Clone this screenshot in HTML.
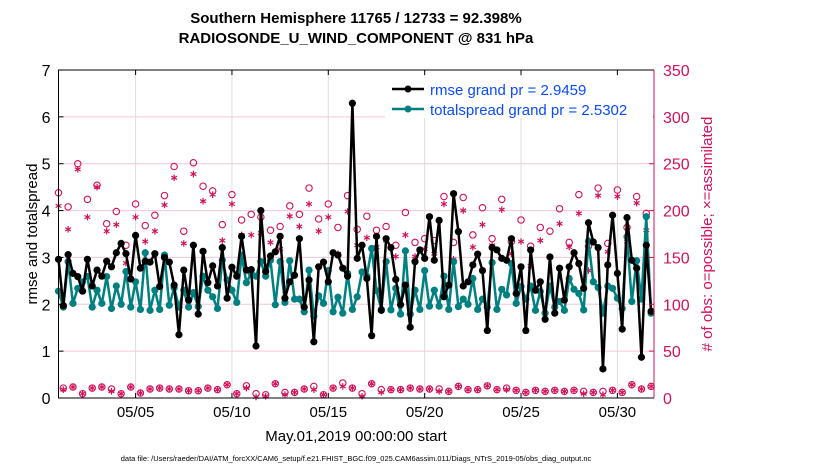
<!DOCTYPE html>
<html><head><meta charset="utf-8"><style>
body{margin:0;background:#fff;width:830px;height:470px;overflow:hidden;font-family:"Liberation Sans",sans-serif}
svg text{font-family:"Liberation Sans",sans-serif}
</style></head><body>
<svg id="chart" width="830" height="470" xmlns="http://www.w3.org/2000/svg">
<text x="356" y="23" text-anchor="middle" font-size="15" font-weight="bold">Southern Hemisphere 11765 / 12733 = 92.398%</text>
<text x="356" y="43" text-anchor="middle" font-size="15" font-weight="bold">RADIOSONDE_U_WIND_COMPONENT @ 831 hPa</text>
<g id="grid"></g>
<g id="obs"></g>
<g id="lines"></g>
<g id="axes"></g>
<text transform="translate(37,234) rotate(-90)" text-anchor="middle" font-size="15">rmse and totalspread</text>
<text transform="translate(712,234) rotate(-90)" text-anchor="middle" font-size="15" fill="#d4105a"># of obs: o=possible; ×=assimilated</text>
<text x="356" y="441" text-anchor="middle" font-size="15">May.01,2019 00:00:00 start</text>
<text x="356" y="461" text-anchor="middle" font-size="7.5">data file: /Users/raeder/DAI/ATM_forcXX/CAM6_setup/f.e21.FHIST_BGC.f09_025.CAM6assim.011/Diags_NTrS_2019-05/obs_diag_output.nc</text>
<g>
<rect x="385" y="76" width="268" height="42" fill="#fff"/>
<g><line x1="392" y1="89" x2="424" y2="89" stroke="#000" stroke-width="2.5"/><circle cx="408" cy="89" r="3.5" fill="#000"/><text x="430" y="95" font-size="15" fill="#0a4cff">rmse grand pr = 2.9459</text></g>
<g><line x1="392" y1="109" x2="424" y2="109" stroke="#008080" stroke-width="2.5"/><circle cx="408" cy="109" r="3.5" fill="#008080"/><text x="430" y="115" font-size="15" fill="#0a4cff">totalspread grand pr = 2.5302</text></g>
</g>
</svg>
<script>
const rmse=[2.96,1.97,3.06,2.66,2.59,2.28,2.96,2.39,2.73,2.6,2.92,2.8,3.1,3.3,3.08,2.54,3.47,2.77,2.92,2.9,3.08,2.38,3.0,2.9,2.41,1.35,2.73,2.09,3.26,1.79,3.13,2.46,2.82,2.39,3.21,2.13,2.79,2.6,3.45,2.73,2.74,1.11,4.0,2.7,3.03,3.12,3.45,2.13,2.48,2.62,3.4,1.94,2.52,1.2,2.8,2.9,2.48,3.1,3.05,2.77,2.6,6.29,2.98,3.26,2.55,1.33,3.45,1.87,3.4,3.21,2.53,1.99,2.41,1.51,2.91,3.16,2.98,3.87,2.94,3.79,2.16,2.41,4.36,3.55,2.39,2.48,2.84,3.07,2.72,1.44,3.21,3.16,2.98,2.94,3.4,2.23,2.8,1.44,3.16,2.3,2.48,1.68,3.01,1.81,2.77,2.09,2.8,3.1,2.87,2.34,3.74,3.33,3.21,0.62,2.84,3.9,2.66,1.47,3.85,2.94,2.77,0.87,3.26,1.85];
const spread=[2.28,1.94,2.91,2.02,2.34,2.48,2.59,1.94,2.3,2.02,2.59,1.91,2.39,2.0,2.7,1.94,2.48,1.89,3.1,1.87,2.3,1.89,3.05,1.98,2.35,1.94,2.3,1.94,2.25,1.95,2.6,2.3,2.16,1.91,2.94,2.52,2.3,2.04,3.05,2.46,2.66,2.6,2.91,2.6,2.94,1.99,2.91,2.04,2.93,2.11,2.11,1.84,2.73,1.75,2.18,2.02,2.72,1.84,2.15,1.81,2.66,1.89,2.16,2.69,2.6,3.19,2.29,1.89,2.91,1.88,2.34,1.79,3.14,1.79,2.3,1.89,2.72,1.96,2.3,1.96,2.6,1.89,2.91,1.95,2.11,2.0,2.55,1.89,2.11,1.94,2.89,1.89,2.32,2.2,2.87,2.02,2.38,2.11,2.39,1.87,2.27,1.81,2.39,1.94,2.06,1.87,2.55,2.32,2.23,1.88,3.35,2.48,2.36,1.81,2.39,2.34,2.13,1.91,3.44,2.06,2.93,2.11,3.87,1.81];
const obsPossible=[219,10.6,204,11.7,250,4.6,212,10.6,227,11.7,186,9.6,199,4.6,163,11.7,207,5.3,184,9.6,195,10.6,216,9.6,247,9.6,178,7.8,251,7.8,226,10.6,221,8.9,185,14.2,217,4.6,190,13,196,4.6,193,3.5,179,15.2,183,6,205,6,196,9.6,224,12.4,191,3.5,207,10.6,182,16,216,10.6,180,4.6,194,15.2,179,8.9,183,8.9,163,8.9,198,10.6,166,9.6,170,9.6,168,9.6,215,7.1,166,12.4,214,8.9,174,8.9,203,13,170,8.9,212,10.6,167,8.2,190,6,162,8.2,182,7.1,178,8.2,202,7.1,166,8.2,217,7.1,162,6,224,7.1,165,8.2,222,6,182,14.2,215,9.6,197,12.4];
const obsAssim=[205,8.9,180,11.7,244,4.6,193,10.6,225,11.7,178,7.1,185,4.6,144,11.7,193,5.3,167,9.6,178,10.6,206,9.6,235,9.6,165,7.8,239,7.8,210,10.6,217,8.9,168,14.2,207,4.6,174,10.6,174,1.1,176,1.8,166,15.2,159,3.5,194,6,183,9.6,207,8.9,178,3.5,193,10.6,154,12.4,199,10.6,163,1.8,171,15.2,161,6,168,8.9,151,8.9,174,10.6,151,9.6,159,9.6,154,7.1,207,7.1,148,12.4,200,8.9,161,8.9,185,13,163,8.9,201,8.9,154,8.2,167,6,141,8.2,168,7.1,150,8.2,186,7.1,161,8.2,197,4.6,136,6,216,3.5,156,8.2,215,6,167,14.2,208,9.6,179,12.4];
const leftTicks=[0,1,2,3,4,5,6,7];
const rightTicks=[0,50,100,150,200,250,300,350];
const xTickDays=[4,9,14,19,24,29];
const xTickLabels=["05/05","05/10","05/15","05/20","05/25","05/30"];
const stepDays=0.25;

const L=58.5,R=654,T=70,B=398,DMAX=30.9;
const NS="http://www.w3.org/2000/svg";
const xS=d=>L+(d/DMAX)*(R-L);
const yL=v=>B-(v/7)*(B-T);
const yR=v=>B-(v/350)*(B-T);
function mk(tag,attrs,parent){const e=document.createElementNS(NS,tag);for(const k in attrs)e.setAttribute(k,attrs[k]);parent.appendChild(e);return e;}
const grid=document.getElementById('grid'),axes=document.getElementById('axes'),obs=document.getElementById('obs'),lines=document.getElementById('lines');
const RED="#d4105a";
rightTicks.forEach(v=>{if(v>0&&v<350){const g=mk('line',{x1:L,x2:R,y1:yR(v),y2:yR(v),stroke:'#f4c6d6','stroke-width':1},grid);

}});
xTickDays.forEach((d,i)=>{const g=mk('line',{x1:xS(d),x2:xS(d),y1:T,y2:B,stroke:'#dcdcdc','stroke-width':1},grid);


mk('line',{x1:xS(d),x2:xS(d),y1:B,y2:B-5,stroke:'#000'},axes);
mk('line',{x1:xS(d),x2:xS(d),y1:T,y2:T+5,stroke:'#000'},axes);
const t=mk('text',{x:xS(d),y:B+19,'text-anchor':'middle','font-size':15},axes);t.textContent=xTickLabels[i];

});
leftTicks.forEach(v=>{mk('line',{x1:L,x2:L+5,y1:yL(v),y2:yL(v),stroke:'#000'},axes);
const t=mk('text',{x:L-8,y:yL(v)+6,'text-anchor':'end','font-size':16},axes);t.textContent=v;

});
rightTicks.forEach(v=>{mk('line',{x1:R-5,x2:R,y1:yR(v),y2:yR(v),stroke:RED},axes);
const t=mk('text',{x:R+9,y:yR(v)+6,'font-size':16,fill:RED},axes);t.textContent=v;

});
mk('path',{d:`M${R},${T}H${L}V${B}H${R}`,fill:'none',stroke:'#000','stroke-width':1},axes);
mk('line',{x1:R,x2:R,y1:T,y2:B,stroke:RED,'stroke-width':1},axes);
obsPossible.forEach((v,i)=>{const c=mk('circle',{cx:xS(i*stepDays),cy:yR(v),r:3.2,fill:'none',stroke:RED,'stroke-width':1.1},obs);

});
obsAssim.forEach((v,i)=>{const x=xS(i*stepDays),y=yR(v),r=3.3;
const d=`M${x},${y-r}V${y+r}M${x-r*0.87},${y-r/2}L${x+r*0.87},${y+r/2}M${x-r*0.87},${y+r/2}L${x+r*0.87},${y-r/2}`;
const p=mk('path',{d:d,stroke:RED,'stroke-width':1.2,fill:'none'},obs);

});
function series(arr,color,name){
const pts=arr.map((v,i)=>xS(i*stepDays)+','+yL(v)).join(' ');
const p=mk('polyline',{points:pts,fill:'none',stroke:color,'stroke-width':2.5,'stroke-linejoin':'round'},lines);


arr.forEach((v,i)=>{const c=mk('circle',{cx:xS(i*stepDays),cy:yL(v),r:3.6,fill:color},lines);

});}
series(spread,'#008080','totalspread');
series(rmse,'#000','rmse');
</script>
</body></html>
